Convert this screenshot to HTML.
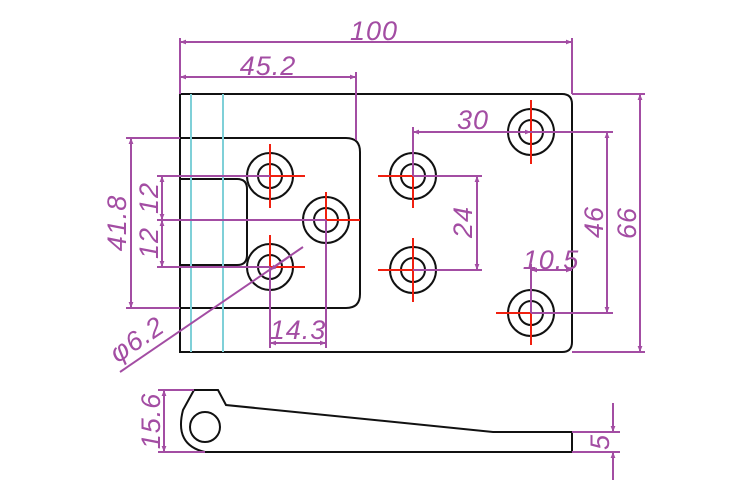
<!DOCTYPE html>
<html><head><style>body{margin:0;background:#fff}svg{display:block}</style></head><body>
<svg width="750" height="500" viewBox="0 0 750 500" xmlns="http://www.w3.org/2000/svg">
<defs>
<marker id="a" viewBox="0 0 10 10" refX="10" refY="5" markerWidth="12" markerHeight="6" orient="auto-start-reverse" markerUnits="userSpaceOnUse"><path d="M0,1 L10,5 L0,9 Z" fill="#a34da3"/></marker>
</defs>
<g fill="none" stroke="#111" stroke-width="2">
<path d="M180,94 L562,94 Q572,94 572,104 L572,342 Q572,352 562,352 L180,352 Z"/>
<path d="M180,138 L346,138 Q360,138 360,152 L360,294 Q360,308 346,308 L180,308"/>
<path d="M180,179 L237,179 Q247,179 247,189 L247,255 Q247,265 237,265 L180,265"/>
<line x1="191" y1="179" x2="191" y2="265"/><line x1="223" y1="179" x2="223" y2="265"/>
<g stroke-width="2">
<circle cx="270" cy="176" r="23"/><circle cx="270" cy="176" r="12"/>
<circle cx="270" cy="267" r="23"/><circle cx="270" cy="267" r="12"/>
<circle cx="326" cy="220" r="23"/><circle cx="326" cy="220" r="12"/>
<circle cx="413" cy="176" r="23"/><circle cx="413" cy="176" r="12"/>
<circle cx="413" cy="270" r="23"/><circle cx="413" cy="270" r="12"/>
<circle cx="531" cy="132" r="23"/><circle cx="531" cy="132" r="12"/>
<circle cx="531" cy="313" r="23"/><circle cx="531" cy="313" r="12"/>
</g>
<path d="M205,452 L572,452 L572,432 L493,432 L226,405 L218,390 L194,390 L183,410 Q174,445 205,452"/>
<circle cx="205" cy="427" r="15"/>
</g>
<g stroke="#7fd0d8" stroke-width="2"><line x1="191" y1="94" x2="191" y2="352"/><line x1="223" y1="94" x2="223" y2="352"/></g>
<g stroke="#f02010" stroke-width="2">
<path d="M270,144V208M238,176H305"/><path d="M270,235V299M238,267H305"/>
<path d="M326,192V252M294,220H360"/>
<path d="M413,144V208M378,176H445"/><path d="M413,238V302M378,270H445"/>
<path d="M531,100V164M499,132H563"/><path d="M531,281V345M496,313H563"/>
</g>
<g stroke="#a34da3" stroke-width="2" fill="none">
<line x1="180" y1="38" x2="180" y2="94"/><line x1="572" y1="38" x2="572" y2="94"/>
<line x1="180" y1="42" x2="572" y2="42" marker-start="url(#a)" marker-end="url(#a)"/>
<line x1="356" y1="72" x2="356" y2="140"/>
<line x1="180" y1="77" x2="356" y2="77" marker-start="url(#a)" marker-end="url(#a)"/>
<line x1="572" y1="94" x2="645" y2="94"/><line x1="572" y1="352" x2="645" y2="352"/>
<line x1="640" y1="94" x2="640" y2="352" marker-start="url(#a)" marker-end="url(#a)"/>
<line x1="531" y1="132" x2="613" y2="132"/><line x1="531" y1="313" x2="613" y2="313"/>
<line x1="607" y1="132" x2="607" y2="313" marker-start="url(#a)" marker-end="url(#a)"/>
<line x1="413" y1="127" x2="413" y2="176"/>
<line x1="413" y1="132" x2="531" y2="132" marker-start="url(#a)" marker-end="url(#a)"/>
<line x1="413" y1="176" x2="482" y2="176"/><line x1="413" y1="270" x2="482" y2="270"/>
<line x1="477" y1="176" x2="477" y2="270" marker-start="url(#a)" marker-end="url(#a)"/>
<line x1="531" y1="264" x2="531" y2="313"/>
<line x1="531" y1="270" x2="572" y2="270" marker-start="url(#a)" marker-end="url(#a)"/>
<line x1="126" y1="138" x2="180" y2="138"/><line x1="126" y1="308" x2="180" y2="308"/>
<line x1="131" y1="138" x2="131" y2="308" marker-start="url(#a)" marker-end="url(#a)"/>
<line x1="157" y1="176" x2="270" y2="176"/><line x1="157" y1="220" x2="326" y2="220"/><line x1="157" y1="267" x2="270" y2="267"/>
<line x1="162" y1="176" x2="162" y2="220" marker-start="url(#a)" marker-end="url(#a)"/>
<line x1="162" y1="220" x2="162" y2="267" marker-start="url(#a)" marker-end="url(#a)"/>
<line x1="270" y1="267" x2="270" y2="348"/><line x1="326" y1="220" x2="326" y2="348"/>
<line x1="270" y1="343" x2="326" y2="343" marker-start="url(#a)" marker-end="url(#a)"/>
<line x1="120" y1="372" x2="303" y2="247"/>
<line x1="290" y1="256" x2="270" y2="270" marker-end="url(#a)"/>
<line x1="158" y1="390" x2="194" y2="390"/><line x1="158" y1="452" x2="205" y2="452"/>
<line x1="164" y1="390" x2="164" y2="452" marker-start="url(#a)" marker-end="url(#a)"/>
<line x1="572" y1="432" x2="620" y2="432"/><line x1="572" y1="452" x2="620" y2="452"/>
<line x1="613" y1="403" x2="613" y2="432" marker-end="url(#a)"/>
<line x1="613" y1="480" x2="613" y2="452" marker-end="url(#a)"/>
</g>
<g fill="#a34da3" font-family="Liberation Sans Narrow, Liberation Sans, sans-serif" font-size="27" font-style="italic" text-anchor="middle" letter-spacing="1">
<text x="374" y="40">100</text>
<text x="268" y="75">45.2</text>
<text x="473" y="129">30</text>
<text x="551" y="269">10.5</text>
<text x="298" y="339">14.3</text>
<text transform="translate(636,223) rotate(-90)">66</text>
<text transform="translate(603,222) rotate(-90)">46</text>
<text transform="translate(472,222) rotate(-90)">24</text>
<text transform="translate(126,223) rotate(-90)">41.8</text>
<text transform="translate(158,198) rotate(-90)">12</text>
<text transform="translate(158,243) rotate(-90)">12</text>
<text transform="translate(160,421) rotate(-90)">15.6</text>
<text transform="translate(609,442) rotate(-90)">5</text>
<text transform="translate(142,347) rotate(-34)">φ6.2</text>
</g>
</svg>
</body></html>
